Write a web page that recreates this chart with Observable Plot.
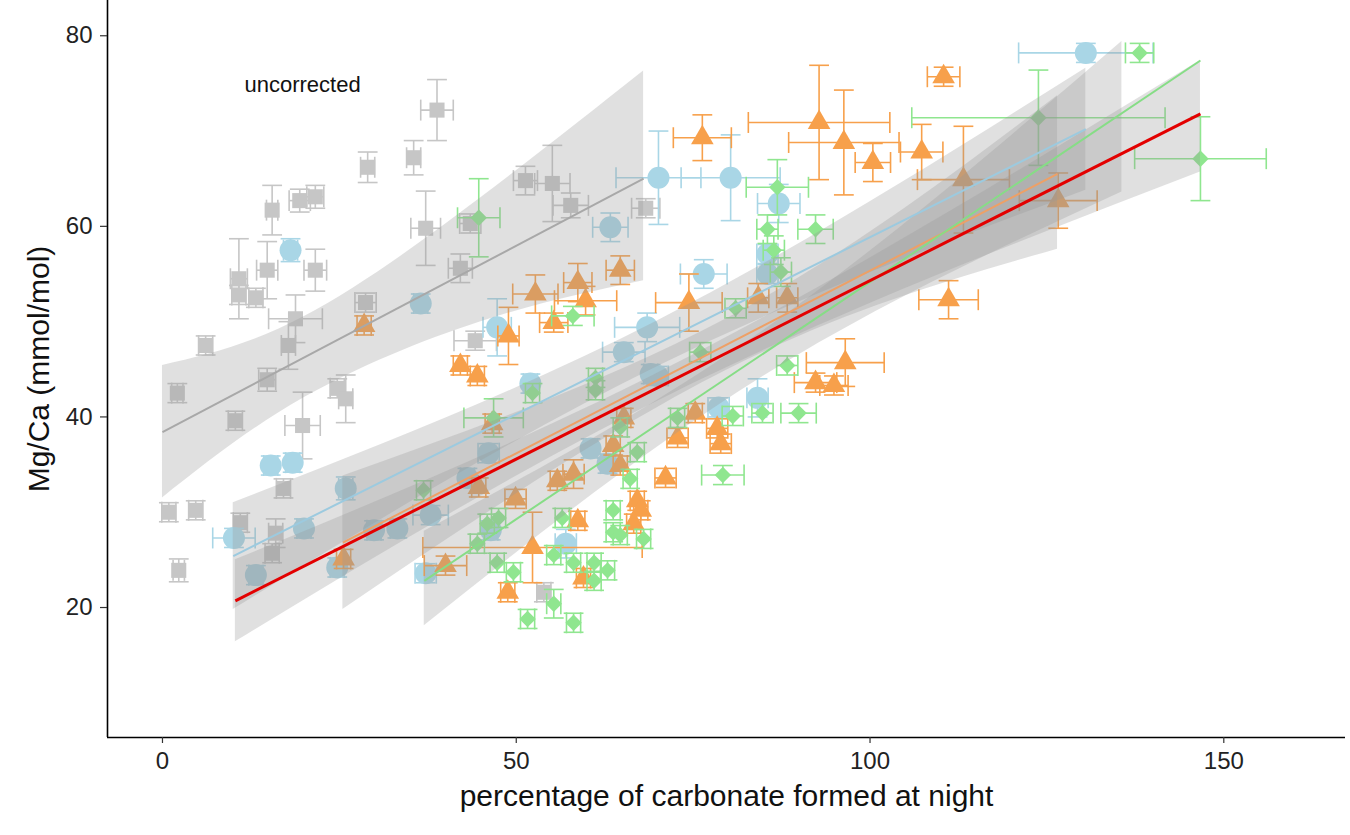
<!DOCTYPE html>
<html>
<head>
<meta charset="utf-8">
<script src="https://cdn.jsdelivr.net/npm/d3@7"></script>
<script src="https://cdn.jsdelivr.net/npm/@observablehq/plot@0.6"></script>
<style>
  body { margin: 0; background: #fff; }
  #chart svg { display: block; }
</style>
</head>
<body>
<div id="chart"></div>
<script>
// ---------- data: [x, y, xError, yError] ----------
const uncorrectedPts = [
  [38.8,72.2,2.3,3.2],[35.5,67.2,1.0,1.8],[29.0,66.2,1.0,1.6],[15.5,61.7,0.8,2.6],
  [19.4,62.7,1.5,1.2],[21.6,63.1,1.2,1.2],[37.2,59.8,2.1,3.9],[43.5,60.3,1.5,1.0],
  [42.1,55.6,1.7,1.5],[14.8,55.4,1.5,3.0],[21.6,55.4,1.6,2.2],[10.8,54.5,1.2,4.2],
  [10.8,52.8,1.0,1.0],[13.2,52.5,1.0,1.0],[18.8,50.3,3.8,2.5],[28.7,52.0,1.5,1.0],
  [17.8,47.5,1.0,2.5],[6.1,47.5,1.0,1.0],[44.2,48.0,3.0,1.0],[14.8,43.9,1.2,1.2],
  [2.1,42.5,0.8,1.0],[24.7,43.0,1.0,1.0],[25.9,41.9,1.0,2.5],[10.3,39.6,1.0,1.0],
  [19.8,39.1,2.5,3.5],[17.1,32.5,1.0,1.0],[0.9,30.0,1.0,1.0],[4.7,30.2,1.0,1.0],
  [2.3,23.9,0.8,1.2],[11.0,28.9,1.0,1.0],[16.0,27.8,1.0,1.5],[15.5,25.7,1.0,1.0],
  [51.3,64.8,1.7,1.5],[55.1,64.5,2.5,4.0],[57.7,62.2,2.5,1.3],[68.3,61.9,2.0,1.0],
  [53.9,21.6,1.0,1.0]
];
const bluePts = [
  [18.1,57.5,1.0,1.2],[36.5,51.9,1.0,1.0],[47.3,49.4,2.0,3.0],[15.3,34.9,1.0,1.0],
  [18.4,35.2,1.0,1.0],[25.9,32.5,1.0,1.2],[10.1,27.3,3.0,1.0],[13.2,23.4,1.0,1.0],
  [20.0,28.3,1.0,1.0],[24.7,24.2,1.0,1.0],[29.9,28.1,1.0,1.0],[33.2,28.3,1.0,1.0],
  [37.9,29.7,2.5,1.0],[37.2,23.6,1.5,1.0],[46.1,36.2,1.5,1.0],[43.1,33.6,1.0,1.0],
  [46.4,28.1,1.0,1.0],[70.1,65.1,6.0,4.9],[80.3,65.1,7.0,4.5],[87.1,62.4,3.0,2.0],
  [76.5,55.0,3.3,1.5],[68.5,49.4,4.6,1.5],[65.2,46.8,3.0,1.0],[63.3,59.9,2.5,1.5],
  [85.5,57.1,1.5,1.0],[85.5,55.0,1.5,1.0],[84.1,42.0,1.5,2.0],[70.0,44.3,1.5,1.0],
  [52.0,43.5,1.0,1.0],[130.5,78.2,9.5,1.0],[57.0,26.7,1.5,1.5],[60.5,36.7,1.0,1.0],
  [62.9,35.1,1.0,1.0],[69.0,44.5,1.0,1.0],[78.6,41.0,1.5,1.0]
];
const orangePts = [
  [28.5,49.6,1.0,1.0],[42.1,45.4,1.0,1.0],[48.9,48.5,1.5,3.0],[44.5,44.3,1.0,1.0],
  [46.6,39.3,1.0,1.0],[65.2,39.9,1.0,1.0],[78.4,38.8,1.5,1.0],[78.9,37.2,1.5,1.0],
  [72.8,37.8,1.5,1.0],[63.7,37.0,1.0,1.0],[44.7,32.6,1.0,1.0],[49.9,31.4,1.5,1.0],
  [55.8,33.3,1.0,1.0],[58.1,34.0,1.5,1.5],[67.1,31.2,1.0,1.0],[67.6,30.2,1.0,1.0],
  [66.6,28.8,1.0,1.0],[71.1,33.6,1.5,1.0],[58.7,29.1,1.0,1.0],[52.3,26.3,15.5,3.7],
  [40.0,24.4,3.0,1.0],[48.8,21.6,1.0,1.0],[64.7,34.9,1.0,1.0],[59.5,23.1,1.0,1.0],
  [25.6,25.1,1.0,1.0],[76.3,69.3,4.1,2.4],[92.8,70.9,10.0,6.0],[96.3,68.8,7.8,5.5],
  [100.4,66.7,2.5,2.0],[64.7,55.4,2.0,1.5],[52.7,52.9,3.2,2.0],[58.7,54.1,2.0,2.0],
  [59.8,52.2,4.4,1.5],[55.3,49.9,2.0,1.0],[74.4,52.0,4.7,3.0],[84.2,52.5,1.5,1.5],
  [88.3,52.5,1.5,1.5],[96.5,45.7,5.5,2.5],[92.3,43.6,3.0,1.0],[94.9,43.3,2.0,1.0],
  [110.4,75.7,2.3,1.0],[107.3,67.8,3.0,2.9],[113.2,64.9,6.5,5.6],[126.6,62.7,5.5,2.9],
  [111.1,52.3,4.2,2.0],[75.3,40.4,1.0,1.0]
];
const greenPts = [
  [44.7,60.9,3.0,4.1],[86.9,64.1,4.4,2.9],[92.3,59.7,2.5,1.5],[85.5,59.7,1.5,1.5],
  [86.4,57.5,1.5,1.5],[87.4,55.2,1.5,1.5],[58.0,50.6,3.0,1.0],[81.0,51.4,1.5,1.0],
  [76.0,46.8,1.5,1.0],[88.3,45.4,1.5,1.0],[52.3,42.5,1.0,1.0],[61.2,44.1,1.0,1.0],
  [61.2,42.8,1.0,1.0],[89.9,40.4,2.5,1.0],[84.8,40.4,1.5,1.0],[80.6,40.1,1.5,1.0],
  [79.2,33.9,3.0,1.0],[72.8,39.9,1.0,1.0],[123.8,71.4,17.9,5.0],[146.7,67.1,9.3,4.4],
  [138.1,78.2,2.0,1.0],[46.8,39.9,4.2,2.0],[67.1,36.3,1.0,1.0],[64.7,38.9,1.0,1.0],
  [66.1,33.5,1.0,1.0],[47.5,29.4,1.0,1.0],[45.9,28.8,1.0,1.0],[44.5,26.7,1.0,1.0],
  [56.5,29.4,1.0,1.0],[63.7,30.2,1.0,1.0],[63.7,27.9,1.0,1.0],[64.7,27.6,1.0,1.0],
  [68.0,27.2,1.0,1.0],[55.3,25.5,1.0,1.0],[58.1,24.7,1.0,1.0],[61.0,24.7,1.0,1.0],
  [62.9,23.9,1.0,1.0],[61.0,22.8,1.0,1.0],[47.3,24.7,1.0,1.0],[49.6,23.7,1.0,1.0],
  [55.3,20.4,1.0,1.5],[51.6,18.8,1.0,1.0],[58.1,18.4,1.0,1.0],[36.9,32.3,1.0,1.0]
];

// regression lines: [series, x1, y1, x2, y2]
const fitLines = [
  ["uncorrected", 0, 38.4, 68, 65.0],
  ["blue", 10, 25.4, 130.5, 70.2],
  ["orange", 25.5, 26.8, 126.5, 65.5],
  ["green", 37, 22.8, 146.7, 77.4],
  ["all", 10.3, 20.7, 146.7, 71.8]
];
// confidence bands: series -> x, lower, upper
const bandX = {
  uncorrected: [0, 20, 45, 68],
  blue: [10, 70, 130.5],
  orange: [25.5, 80, 126.5],
  green: [37, 85, 135.6],
  all: [10.3, 75, 146.7]
};
const bandLow = {
  uncorrected: [31.5, 42, 50, 54.3],
  blue: [19.8, 45.3, 63.8],
  orange: [19.8, 45.0, 57.6],
  green: [18.1, 44.3, 63.6],
  all: [16.4, 43.5, 65.7]
};
const bandHigh = {
  uncorrected: [45.4, 50.5, 63, 76.3],
  blue: [31, 50.1, 76.6],
  orange: [33.8, 50.4, 73.7],
  green: [28, 49.1, 79.4],
  all: [25, 46.5, 77.4]
};
const xTicks = [0, 50, 100, 150];
const yTicks = [20, 40, 60, 80];
const annotation = [{x: 19.8, y: 74.8, label: "uncorrected"}];

// ---------- styling ----------
const xDomain = [-7.77, 167.2];
const yDomain = [6.36, 83.7];
const styles = {
  uncorrected: {color: "#c6c6c6", line: "#a8a8a8", symbol: "square", r: 8.5},
  blue: {color: "#a9d6e6", line: "#9ccadf", symbol: "circle", r: 11},
  orange: {color: "#f7a04b", line: "#eea066", symbol: "triangle", r: 8.4},
  green: {color: "#8fe68f", line: "#86dd86", symbol: "diamond2", r: 7.4}
};
const ptsBySeries = {uncorrected: uncorrectedPts, blue: bluePts, orange: orangePts, green: greenPts};
const capX = 1.4, capY = 1.1;

const marks = [];
// error bars and points
for (const [name, pts] of Object.entries(ptsBySeries)) {
  const st = styles[name];
  const rows = pts.map(([x, y, xe, ye]) => ({x, y, xe, ye}));
  const eb = {stroke: st.color, strokeWidth: 1.6};
  marks.push(
    Plot.link(rows, {x1: d => d.x - d.xe, x2: d => d.x + d.xe, y1: "y", y2: "y", ...eb}),
    Plot.link(rows, {x1: d => d.x - d.xe, x2: d => d.x - d.xe, y1: d => d.y - capY, y2: d => d.y + capY, ...eb}),
    Plot.link(rows, {x1: d => d.x + d.xe, x2: d => d.x + d.xe, y1: d => d.y - capY, y2: d => d.y + capY, ...eb}),
    Plot.link(rows, {x1: "x", x2: "x", y1: d => d.y - d.ye, y2: d => d.y + d.ye, ...eb}),
    Plot.link(rows, {x1: d => d.x - capX, x2: d => d.x + capX, y1: d => d.y - d.ye, y2: d => d.y - d.ye, ...eb}),
    Plot.link(rows, {x1: d => d.x - capX, x2: d => d.x + capX, y1: d => d.y + d.ye, y2: d => d.y + d.ye, ...eb}),
    Plot.dot(rows, {x: "x", y: "y", symbol: st.symbol, r: st.r, fill: st.color, stroke: "none"})
  );
}
// confidence bands
for (const name of Object.keys(bandX)) {
  const rows = bandX[name].map((x, i) => ({x, lo: bandLow[name][i], hi: bandHigh[name][i]}));
  marks.push(Plot.areaY(rows, {x: "x", y1: "lo", y2: "hi", fill: "#999999", fillOpacity: 0.3, curve: "natural"}));
}
// regression lines
for (const [name, x1, y1, x2, y2] of fitLines) {
  const isAll = name === "all";
  marks.push(Plot.link([{x1, y1, x2, y2}], {
    x1: "x1", y1: "y1", x2: "x2", y2: "y2",
    stroke: isAll ? "#e30000" : styles[name].line,
    strokeWidth: isAll ? 3 : 2
  }));
}
// annotation
marks.push(Plot.text(annotation, {x: "x", y: "y", text: "label", fontSize: 22, fill: "#111"}));
// axes
marks.push(
  Plot.ruleX([xDomain[0]], {stroke: "#000", strokeWidth: 1.6}),
  Plot.ruleY([yDomain[0]], {stroke: "#000", strokeWidth: 1.6}),
  Plot.axisX({ticks: xTicks, tickSize: 6, tickPadding: 8, fontSize: 24, label: null, stroke: "#333", strokeWidth: 1.2, fill: "#222"}),
  Plot.axisY({ticks: yTicks, tickSize: 7, tickPadding: 8, fontSize: 24, label: null, stroke: "#333", strokeWidth: 1.2, fill: "#222"}),
  Plot.text(["percentage of carbonate formed at night"], {frameAnchor: "bottom", dy: 68, fontSize: 30, fill: "#111"}),
  Plot.text(["Mg/Ca (mmol/mol)"], {frameAnchor: "left", textAnchor: "middle", dx: -68, rotate: -90, fontSize: 30, fill: "#111"})
);

const chart = Plot.plot({
  width: 1350,
  height: 835,
  marginLeft: 107,
  marginRight: 5,
  marginTop: 0,
  marginBottom: 98,
  style: {fontFamily: "'Liberation Sans', Arial, sans-serif", background: "#fff", overflow: "visible"},
  x: {domain: xDomain},
  y: {domain: yDomain},
  marks
});
document.getElementById("chart").appendChild(chart);
</script>
</body>
</html>
